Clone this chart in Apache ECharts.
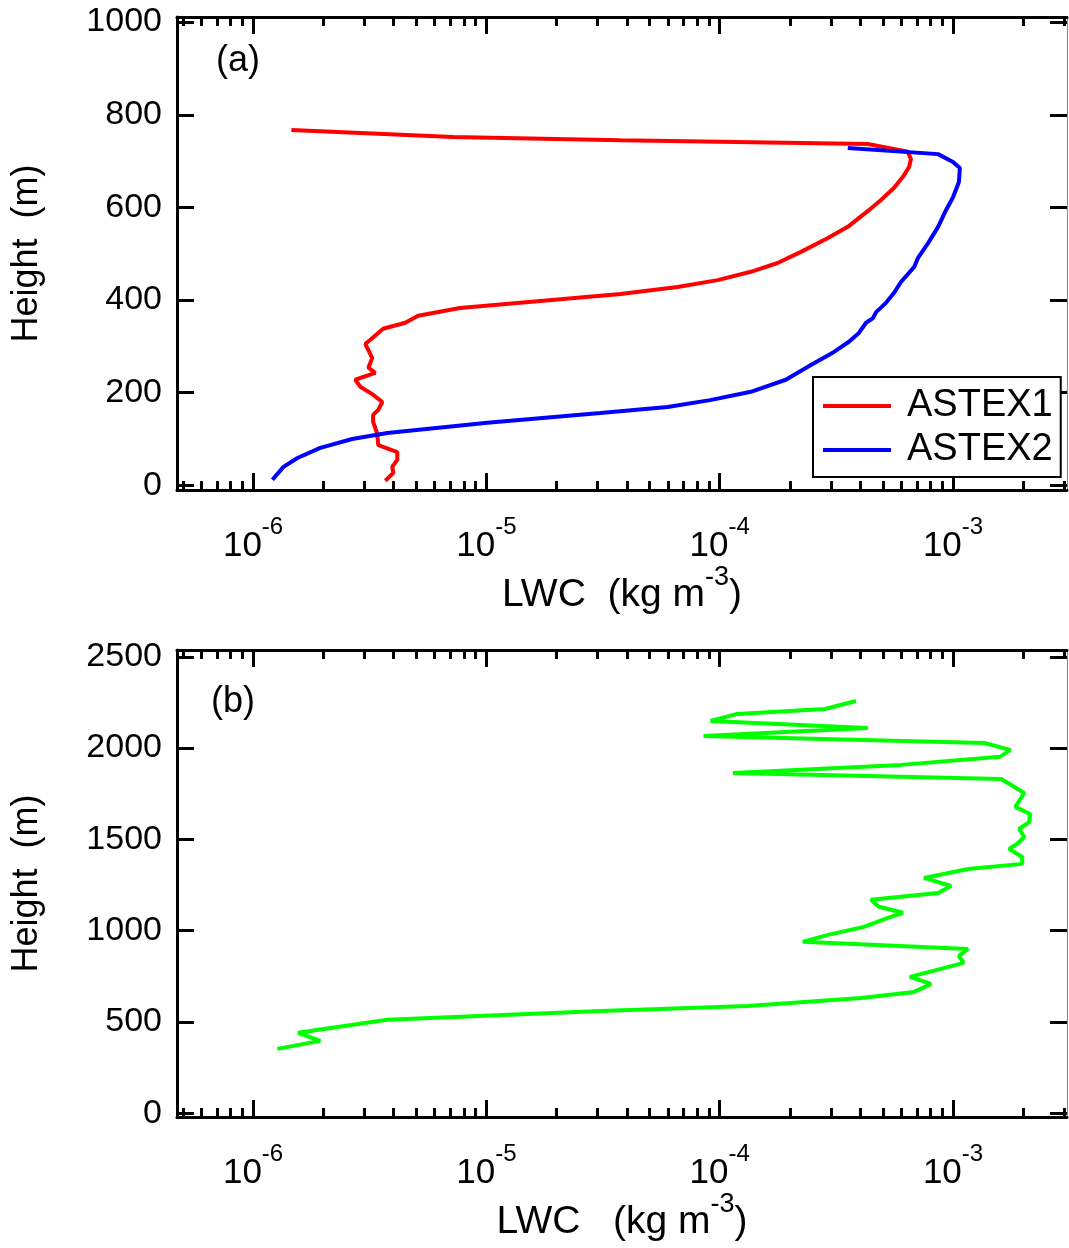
<!DOCTYPE html>
<html>
<head>
<meta charset="utf-8">
<script src="https://cdn.jsdelivr.net/npm/echarts@6/dist/echarts.min.js"></script>
<style>
html,body{margin:0;padding:0;background:#fff;}
#chart{width:1069px;height:1248px;}
</style>
</head>
<body>
<div id="chart"></div>
<script>
// ---- data ----
const astex1LWC = [1.46e-6, 7.2e-6, 3.76e-5, 4.31e-4, 6.41e-4, 6.6e-4, 6.48e-4, 6.1e-4, 5.58e-4, 4.91e-4,
  4.36e-4, 3.54e-4, 2.91e-4, 2.23e-4, 1.77e-4, 1.36e-4, 9.8e-5, 6.6e-5, 3.76e-5, 7.7e-6,
  5.1e-6, 4.49e-6, 3.61e-6, 3.03e-6, 3.24e-6, 3.12e-6, 3.34e-6, 2.74e-6, 2.88e-6, 3.24e-6,
  3.58e-6, 3.44e-6, 3.27e-6, 3.27e-6, 3.4e-6, 3.44e-6, 4.15e-6, 4.15e-6, 3.95e-6, 3.99e-6, 3.69e-6];
const astex1Height = [767, 752, 745, 737, 720, 704, 687, 666, 642, 616,
  594, 558, 534, 504, 480, 461, 443, 428, 413, 383,
  366, 351, 338, 305, 275, 254, 243, 228, 213, 197,
  180, 163, 152, 137, 113, 87, 72, 55, 40, 27, 10];

const astex2LWC = [3.54e-4, 8.63e-4, 1.0e-3, 1.07e-3, 1.06e-3, 1.0e-3, 9.33e-4, 8.63e-4, 7.82e-4, 7.08e-4,
  6.81e-4, 5.98e-4, 5.58e-4, 5.16e-4, 4.68e-4, 4.54e-4, 4.24e-4, 3.95e-4, 3.58e-4, 3.09e-4,
  2.46e-4, 1.92e-4, 1.36e-4, 9.1e-5, 5.98e-5, 3.08e-5, 1.01e-5, 3.76e-6, 2.66e-6, 1.94e-6,
  1.55e-6, 1.35e-6, 1.21e-6];
const astex2Height = [728, 715, 698, 685, 655, 622, 594, 558, 523, 491,
  471, 439, 415, 394, 374, 361, 351, 329, 310, 288,
  260, 228, 202, 184, 169, 156, 135, 113, 100, 81,
  59, 40, 12];

const panelBLWC = [3.84e-4, 2.82e-4, 1.19e-4, 9.14e-5, 4.31e-4, 8.53e-5, 1.36e-3, 1.76e-3, 1.59e-3, 5.98e-4,
  1.14e-4, 1.61e-3, 2.02e-3, 1.85e-3, 2.14e-3, 2.12e-3, 1.92e-3, 2.02e-3, 1.88e-3, 1.74e-3,
  1.98e-3, 1.98e-3, 1.16e-3, 7.51e-4, 9.8e-4, 8.63e-4, 4.45e-4, 4.81e-4, 6.1e-4, 5.26e-4,
  4.15e-4, 2.91e-4, 2.27e-4, 1.16e-3, 1.06e-3, 1.11e-3, 8.87e-4, 6.53e-4, 8.05e-4, 6.81e-4,
  4.03e-4, 1.32e-4, 3.08e-5, 3.76e-6, 1.56e-6, 1.94e-6, 1.27e-6];
const panelBHeight = [2258, 2214, 2187, 2148, 2110, 2066, 2028, 1990, 1952, 1908,
  1864, 1831, 1754, 1678, 1639, 1595, 1557, 1513, 1475, 1448,
  1404, 1366, 1338, 1289, 1245, 1207, 1169, 1131, 1098, 1070,
  1021, 977, 939, 900, 862, 824, 791, 747, 709, 665,
  632, 588, 561, 512, 441, 397, 353];

// ---- axis ticks ----
const xMajorTicks = [1e-6, 1e-5, 1e-4, 1e-3];
const xMinorTicks = [];
for (let e = -7; e <= -3; e++) {
  for (let k = 2; k <= 9; k++) xMinorTicks.push(k * Math.pow(10, e));
}
const yTicksA = [0, 200, 400, 600, 800, 1000];
const yTicksB = [0, 500, 1000, 1500, 2000, 2500];
const xRange = [4.72e-7, 3.08e-3];
const yRangeA = [-10, 1011];
const yRangeB = [-20, 2537];

const zip = (xs, ys) => xs.map((x, i) => [x, ys[i]]);

const FONT = 'Liberation Sans, Arial, Helvetica, sans-serif';
const BLACK = '#000';

function xAxesFor(gridIndex, titleText) {
  const base = {
    type: 'log', logBase: 10, gridIndex: gridIndex,
    min: xRange[0], max: xRange[1],
    splitLine: { show: false }, minorTick: { show: false }, minorSplitLine: { show: false }
  };
  const mk = (pos, major, extra) => Object.assign({}, base, {
    position: pos,
    axisLine: { show: major, onZero: false, lineStyle: { color: BLACK, width: 3 } },
    axisTick: {
      show: true, inside: true, length: major ? 17 : 9,
      lineStyle: { color: BLACK, width: 3 },
      customValues: major ? xMajorTicks : xMinorTicks.filter(v => v > xRange[0] && v < xRange[1])
    },
    axisLabel: { show: false }
  }, extra || {});
  return [
    mk('bottom', true, {
      axisLabel: {
        show: true, margin: 32, customValues: xMajorTicks, fontFamily: FONT, color: BLACK,
        formatter: v => '{b|10}{s|' + Math.round(Math.log10(v)) + '}',
        rich: {
          b: { fontSize: 35, lineHeight: 35, fontFamily: FONT, color: BLACK, padding: [13, 0, 0, 0] },
          s: { fontSize: 24, lineHeight: 24, fontFamily: FONT, color: BLACK, padding: [0, 0, 24, 0] }
        }
      },
      name: '{t|' + titleText + '}{s|-3}{t|)}',
      nameLocation: 'middle', nameGap: 72,
      nameTextStyle: {
        rich: {
          t: { fontSize: 39, lineHeight: 39, fontFamily: FONT, color: BLACK, padding: [11, 0, 0, 0] },
          s: { fontSize: 27, lineHeight: 27, fontFamily: FONT, color: BLACK, padding: [0, 0, 23, 0] }
        }
      }
    }),
    mk('bottom', false),
    mk('top', true),
    mk('top', false)
  ];
}

function yAxesFor(gridIndex, range, ticks) {
  return [
    {
      type: 'value', gridIndex: gridIndex, position: 'left', min: range[0], max: range[1],
      axisLine: { show: true, onZero: false, lineStyle: { color: BLACK, width: 3 } },
      axisTick: { show: true, inside: true, length: 17, lineStyle: { color: BLACK, width: 3 }, customValues: ticks },
      axisLabel: { show: true, customValues: ticks, margin: 15, fontSize: 34, fontFamily: FONT, color: BLACK,
        formatter: v => String(Math.round(v)) },
      splitLine: { show: false },
      name: 'Height  (m)', nameLocation: 'middle', nameGap: 132,
      nameTextStyle: { fontSize: 36, lineHeight: 36, fontFamily: FONT, color: BLACK }
    },
    {
      type: 'value', gridIndex: gridIndex, position: 'right', min: range[0], max: range[1],
      axisLine: { show: true, onZero: false, lineStyle: { color: '#888', width: 1 } },
      axisTick: { show: true, inside: true, length: 17, lineStyle: { color: BLACK, width: 3 }, customValues: ticks },
      axisLabel: { show: false },
      splitLine: { show: false }
    }
  ];
}

const chart = echarts.init(document.getElementById('chart'), null, { renderer: 'canvas' });
const option = {
  backgroundColor: '#fff',
  animation: false,
  title: [
    { text: '(a)', left: 216, top: 43, padding: 0, textStyle: { fontSize: 36, fontWeight: 'normal', fontFamily: FONT, color: BLACK } },
    { text: '(b)', left: 211, top: 684, padding: 0, textStyle: { fontSize: 36, fontWeight: 'normal', fontFamily: FONT, color: BLACK } }
  ],
  grid: [
    { left: 177, right: 2, top: 17, height: 473, containLabel: false },
    { left: 177, right: 2, top: 650, height: 467, containLabel: false }
  ],
  xAxis: [].concat(xAxesFor(0, 'LWC  (kg m'), xAxesFor(1, 'LWC   (kg m')),
  yAxis: [].concat(yAxesFor(0, yRangeA, yTicksA), yAxesFor(1, yRangeB, yTicksB)),
  legend: {
    data: ['ASTEX1', 'ASTEX2'],
    orient: 'vertical', left: 813, top: 377,
    icon: 'rect', itemWidth: 68, itemHeight: 4, itemGap: 6,
    padding: [10, 8, 8, 10],
    borderColor: BLACK, borderWidth: 2, backgroundColor: '#fff',
    selectedMode: false,
    textStyle: { fontSize: 38, lineHeight: 37, fontFamily: FONT, color: BLACK, padding: [0, 0, 0, 11] }
  },
  series: [
    {
      name: 'ASTEX1', type: 'line', xAxisIndex: 0, yAxisIndex: 0,
      data: zip(astex1LWC, astex1Height), symbol: 'none', showSymbol: false,
      lineStyle: { color: '#ff0000', width: 4 }, itemStyle: { color: '#ff0000' }
    },
    {
      name: 'ASTEX2', type: 'line', xAxisIndex: 0, yAxisIndex: 0,
      data: zip(astex2LWC, astex2Height), symbol: 'none', showSymbol: false,
      lineStyle: { color: '#0000ff', width: 4 }, itemStyle: { color: '#0000ff' }
    },
    {
      name: 'Panel b', type: 'line', xAxisIndex: 4, yAxisIndex: 2,
      data: zip(panelBLWC, panelBHeight), symbol: 'none', showSymbol: false,
      lineStyle: { color: '#00ff00', width: 4 }, itemStyle: { color: '#00ff00' }
    }
  ]
};
chart.setOption(option);
</script>
</body>
</html>
